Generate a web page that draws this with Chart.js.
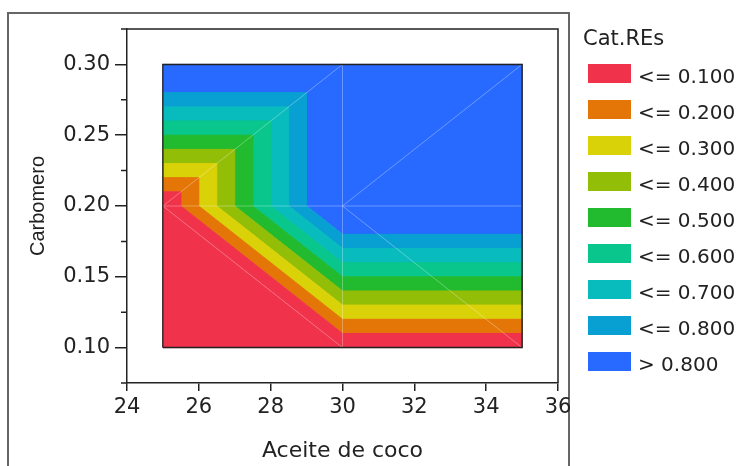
<!DOCTYPE html>
<html>
<head>
<meta charset="utf-8">
<title>Cat.REs contour</title>
<script src="https://cdn.jsdelivr.net/npm/chart.js"></script>
<style>
  body { margin: 0; background: #fff; }
  canvas { display: block; }
</style>
</head>
<body>
<canvas id="myChart" width="740" height="466"></canvas>
<script>
// grid nodes of the fitted surface
var xNodes = [25, 30, 35];
var yNodes = [0.10, 0.20, 0.30];
// z value at each node, one row per yNode
var zValues = [
  [0, 0, 0],
  [0, 1, 1],
  [1, 1, 1]
];
// triangles of the mesh, as [xIndex, yIndex] node pairs
var triangles = [
  [[0,0],[1,0],[0,1]], [[1,0],[1,1],[0,1]],
  [[1,0],[2,0],[1,1]], [[2,0],[2,1],[1,1]],
  [[0,1],[1,1],[1,2]], [[0,1],[1,2],[0,2]],
  [[1,1],[2,1],[2,2]], [[1,1],[2,2],[1,2]]
];

var catLevels = [0.1, 0.2, 0.3, 0.4, 0.5, 0.6, 0.7, 0.8];
var catLabels = ['<= 0.100', '<= 0.200', '<= 0.300', '<= 0.400', '<= 0.500',
                 '<= 0.600', '<= 0.700', '<= 0.800', '> 0.800'];
var catColors = ['#F0324B', '#E47608', '#DAD208', '#92BE08', '#22BA2E',
                 '#08C68C', '#08BCBE', '#08A0D2', '#286AFF'];

var xTicks = [24, 26, 28, 30, 32, 34, 36];
var yTicks = [0.10, 0.15, 0.20, 0.25, 0.30];
var yMinorTicks = [0.075, 0.125, 0.175, 0.225, 0.275, 0.325];

// clip a polygon (with z at each vertex) to f(v) >= 0
function clip(poly, f) {
  var out = [];
  for (var i = 0; i < poly.length; i++) {
    var cur = poly[i], prev = poly[(i + poly.length - 1) % poly.length];
    var fc = f(cur), fp = f(prev);
    if ((fc >= 0) !== (fp >= 0)) {
      var t = fp / (fp - fc);
      out.push({x: prev.x + t * (cur.x - prev.x), y: prev.y + t * (cur.y - prev.y), z: prev.z + t * (cur.z - prev.z)});
    }
    if (fc >= 0) out.push(cur);
  }
  return out;
}

var datasets = [];
triangles.forEach(function (tri) {
  var pts = tri.map(function (n) { return {x: xNodes[n[0]], y: yNodes[n[1]], z: zValues[n[1]][n[0]]}; });
  catColors.forEach(function (col, k) {
    var lo = k === 0 ? -Infinity : catLevels[k - 1];
    var hi = k < catLevels.length ? catLevels[k] : Infinity;
    var poly = clip(pts, function (v) { return v.z - lo; });
    poly = clip(poly, function (v) { return hi - v.z; });
    if (poly.length < 3) return;
    datasets.push({
      data: poly.concat([poly[0]]).map(function (p) { return {x: p.x, y: p.y}; }),
      showLine: true, fill: 'shape', backgroundColor: col, borderColor: col,
      borderWidth: 1, pointRadius: 0, order: 3
    });
  });
});

// faint mesh edges
var seen = {};
triangles.forEach(function (tri) {
  for (var e = 0; e < 3; e++) {
    var a = tri[e], b = tri[(e + 1) % 3];
    var key = [a.join(), b.join()].sort().join('|');
    if (seen[key]) continue;
    seen[key] = true;
    datasets.push({
      data: [{x: xNodes[a[0]], y: yNodes[a[1]]}, {x: xNodes[b[0]], y: yNodes[b[1]]}],
      showLine: true, fill: false, borderColor: 'rgba(255,255,255,0.3)',
      borderWidth: 1, pointRadius: 0, order: 2
    });
  }
});

// black frame round the data region
datasets.push({
  data: [{x: xNodes[0], y: yNodes[0]}, {x: xNodes[2], y: yNodes[0]}, {x: xNodes[2], y: yNodes[2]},
         {x: xNodes[0], y: yNodes[2]}, {x: xNodes[0], y: yNodes[0]}],
  showLine: true, fill: false, borderColor: '#222', borderWidth: 1.5, pointRadius: 0, order: 1
});

var framePlugin = {
  id: 'frame',
  beforeDraw: function (chart) {
    var ctx = chart.ctx;
    ctx.save();
    ctx.strokeStyle = '#666';
    ctx.lineWidth = 2;
    ctx.beginPath();
    ctx.moveTo(8, 470); ctx.lineTo(8, 13); ctx.lineTo(569, 13); ctx.lineTo(569, 470);
    ctx.stroke();
    ctx.restore();
  },
  afterDraw: function (chart) {
    var ctx = chart.ctx, a = chart.chartArea, ys = chart.scales.y;
    ctx.save();
    ctx.strokeStyle = '#222';
    ctx.lineWidth = 1.5;
    ctx.beginPath();
    ctx.moveTo(a.left, a.top); ctx.lineTo(a.right, a.top); ctx.lineTo(a.right, a.bottom);
    yMinorTicks.forEach(function (v) {
      var py = ys.getPixelForValue(v);
      ctx.moveTo(a.left - 6, py); ctx.lineTo(a.left, py);
    });
    ctx.stroke();

    // legend
    ctx.fillStyle = '#222';
    ctx.textBaseline = 'alphabetic';
    ctx.font = '21px "DejaVu Sans"';
    ctx.fillText('Cat.REs', 583, 45);
    ctx.font = '20px "DejaVu Sans"';
    catLabels.forEach(function (lab, i) {
      var top = 64 + 36 * i;
      ctx.fillStyle = catColors[i];
      ctx.fillRect(588, top, 43, 19);
      ctx.fillStyle = '#222';
      ctx.fillText(lab, 638, top + 19);
    });
    ctx.restore();
  }
};

Chart.defaults.font.family = '"DejaVu Sans"';
Chart.defaults.color = '#222';

var ctx = document.getElementById('myChart').getContext('2d');
var myChart = new Chart(ctx, {
  type: 'scatter',
  data: { datasets: datasets },
  options: {
    responsive: false,
    animation: false,
    devicePixelRatio: 1,
    events: [],
    layout: { padding: { top: 29, right: 182, left: 0, bottom: 0 } },
    plugins: { legend: { display: false }, tooltip: { enabled: false } },
    scales: {
      x: {
        type: 'linear', min: 24, max: 36,
        afterBuildTicks: function (s) { s.ticks = xTicks.map(function (v) { return {value: v}; }); },
        afterFit: function (s) { s.height = 83; },
        ticks: { font: { size: 21 }, padding: 4, maxRotation: 0 },
        grid: { drawOnChartArea: false, drawTicks: true, tickLength: 8, color: '#222', lineWidth: 1.5 },
        border: { color: '#222', width: 1.5 },
        title: { display: true, text: 'Aceite de coco', font: { size: 22 }, padding: { bottom: 2 } }
      },
      y: {
        type: 'linear', min: 0.075, max: 0.325,
        afterBuildTicks: function (s) { s.ticks = yTicks.map(function (v) { return {value: v}; }); },
        afterFit: function (s) { s.width = 127; },
        ticks: { font: { size: 21 }, padding: 5, callback: function (v) { return v.toFixed(2); } },
        grid: { drawOnChartArea: false, drawTicks: true, tickLength: 12, color: '#222', lineWidth: 1.5 },
        border: { color: '#222', width: 1.5 },
        title: { display: true, text: 'Carbomero', font: { family: '"Liberation Sans"', size: 20 }, padding: { top: 26 } }
      }
    }
  },
  plugins: [framePlugin]
});
</script>
</body>
</html>
